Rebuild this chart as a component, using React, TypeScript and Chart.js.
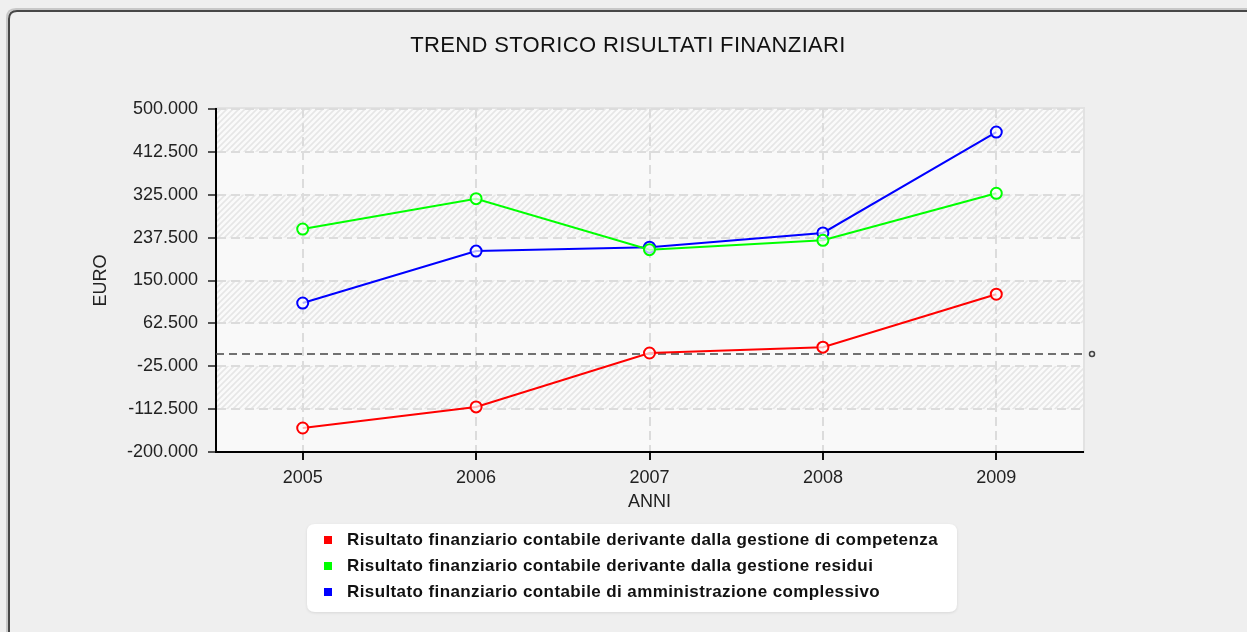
import React, { useEffect, useRef } from "react";
import { Chart, registerables } from "chart.js";

Chart.register(...registerables);

const chartTitle = "TREND STORICO RISULTATI FINANZIARI";
const xAxisTitle = "ANNI";
const yAxisTitle = "EURO";
const years = ["2005", "2006", "2007", "2008", "2009"];
const competenza = [-151000, -108000, 2000, 14000, 122000];
const residui = [255000, 317000, 213000, 232000, 328000];
const complessivo = [104000, 210000, 218000, 247000, 453000];
const yTicks = [-200000, -112500, -25000, 62500, 150000, 237500, 325000, 412500, 500000];
const zeroLine = 0;
const seriesLabels = [
  "Risultato finanziario contabile derivante dalla gestione di competenza",
  "Risultato finanziario contabile derivante dalla gestione residui",
  "Risultato finanziario contabile di amministrazione complessivo",
];
const seriesColors = ["#ff0000", "#00ff00", "#0000ff"];

function fmt(v: number): string {
  const s = Math.abs(Math.round(v)).toString().replace(/\B(?=(\d{3})+(?!\d))/g, ".");
  return (v < 0 ? "-" : "") + s;
}

function roundPath(ctx: CanvasRenderingContext2D, x: number, y: number, w: number, h: number, r: number) {
  ctx.beginPath();
  ctx.moveTo(x + r, y);
  ctx.lineTo(x + w - r, y);
  ctx.quadraticCurveTo(x + w, y, x + w, y + r);
  ctx.lineTo(x + w, y + h - r);
  ctx.quadraticCurveTo(x + w, y + h, x + w - r, y + h);
  ctx.lineTo(x + r, y + h);
  ctx.quadraticCurveTo(x, y + h, x, y + h - r);
  ctx.lineTo(x, y + r);
  ctx.quadraticCurveTo(x, y, x + r, y);
  ctx.closePath();
}

function makePattern(ctx: CanvasRenderingContext2D): CanvasPattern | string {
  const c = document.createElement("canvas");
  c.width = 6;
  c.height = 6;
  const p = c.getContext("2d");
  if (!p) return "#f3f3f3";
  p.fillStyle = "#fafafa";
  p.fillRect(0, 0, 6, 6);
  p.strokeStyle = "#e6e6e6";
  p.lineWidth = 1.6;
  p.beginPath();
  p.moveTo(-1, 7);
  p.lineTo(7, -1);
  p.moveTo(-4, 4);
  p.lineTo(4, -4);
  p.moveTo(2, 10);
  p.lineTo(10, 2);
  p.stroke();
  return ctx.createPattern(c, "repeat") || "#f3f3f3";
}

const backgroundPlugin = {
  id: "panelBackground",
  beforeDraw(chart: any) {
    const { ctx, width, height, chartArea: a, scales } = chart;
    ctx.save();
    ctx.fillStyle = "#efefef";
    ctx.fillRect(0, 0, width, height);
    ctx.lineWidth = 2;
    ctx.strokeStyle = "#c8c8c8";
    roundPath(ctx, 7, 9, width + 40, height + 40, 9);
    ctx.stroke();
    ctx.strokeStyle = "#474747";
    roundPath(ctx, 9, 11, width + 40, height + 40, 8);
    ctx.stroke();

    const pattern = makePattern(ctx);
    const ys = scales.y;
    const sorted = [...yTicks].sort((p, q) => q - p);
    for (let i = 0; i < sorted.length - 1; i++) {
      const top = ys.getPixelForValue(sorted[i]);
      const bot = ys.getPixelForValue(sorted[i + 1]);
      ctx.fillStyle = i % 2 === 0 ? pattern : "#f9f9f9";
      ctx.fillRect(a.left, top, a.right - a.left, bot - top);
    }
    ctx.strokeStyle = "#e2e2e2";
    ctx.lineWidth = 2;
    ctx.strokeRect(a.left, a.top - 1, a.right - a.left + 1, a.bottom - a.top + 1);

    // chart title
    ctx.fillStyle = "#111111";
    ctx.font = "22px 'Liberation Sans', Arial, sans-serif";
    ctx.textAlign = "center";
    ctx.textBaseline = "middle";
    (ctx as any).letterSpacing = "0.35px";
    ctx.fillText(chartTitle, 628, 46);
    (ctx as any).letterSpacing = "0px";
    ctx.restore();
  },
  beforeDatasetsDraw(chart: any) {
    const { ctx, chartArea: a, scales } = chart;
    const y0 = scales.y.getPixelForValue(zeroLine);
    ctx.save();
    ctx.strokeStyle = "#444444";
    ctx.lineWidth = 1.5;
    ctx.setLineDash([8, 5]);
    ctx.beginPath();
    ctx.moveTo(a.left, y0);
    ctx.lineTo(a.right, y0);
    ctx.stroke();
    ctx.setLineDash([]);
    ctx.beginPath();
    ctx.arc(a.right + 9, y0, 2.5, 0, Math.PI * 2);
    ctx.stroke();
    ctx.restore();
  },
  afterDraw(chart: any) {
    const { ctx } = chart;
    const bx = 307, by = 524, bw = 650, bh = 88;
    ctx.save();
    ctx.shadowColor = "rgba(0,0,0,0.10)";
    ctx.shadowBlur = 3;
    ctx.shadowOffsetY = 1;
    ctx.fillStyle = "#ffffff";
    roundPath(ctx, bx, by, bw, bh, 8);
    ctx.fill();
    ctx.shadowColor = "transparent";
    ctx.font = "bold 17px 'Liberation Sans', Arial, sans-serif";
    (ctx as any).letterSpacing = "0.4px";
    ctx.textBaseline = "middle";
    ctx.textAlign = "left";
    seriesLabels.forEach((label, i) => {
      const cy = by + 16 + i * 26;
      ctx.fillStyle = seriesColors[i];
      ctx.fillRect(bx + 17, cy - 4, 8, 8);
      ctx.fillStyle = "#111111";
      ctx.fillText(label, bx + 40, cy);
    });
    (ctx as any).letterSpacing = "0px";
    ctx.restore();
  },
};

export default function App() {
  const ref = useRef<HTMLCanvasElement | null>(null);

  useEffect(() => {
    if (!ref.current) return;
    const mk = (label: string, data: number[], color: string) => ({
      label,
      data,
      borderColor: color,
      backgroundColor: color,
      borderWidth: 2,
      pointRadius: 5.5,
      pointHoverRadius: 5.5,
      pointBorderWidth: 2,
      pointBorderColor: color,
      pointBackgroundColor: "rgba(255,255,255,0.7)",
      tension: 0,
      fill: false,
    });
    const chart = new Chart(ref.current, {
      type: "line",
      data: {
        labels: years,
        datasets: [
          mk(seriesLabels[0], competenza, seriesColors[0]),
          mk(seriesLabels[1], residui, seriesColors[1]),
          mk(seriesLabels[2], complessivo, seriesColors[2]),
        ],
      },
      options: {
        responsive: false,
        animation: false,
        layout: { padding: { left: 88, right: 164, top: 109, bottom: 119 } },
        plugins: {
          legend: { display: false },
          tooltip: { enabled: false },
          title: { display: false },
        },
        scales: {
          x: {
            offset: true,
            afterFit(scale: any) {
              scale.height = 61;
            },
            grid: {
              offset: false,
              color: "#dcdcdc",
              lineWidth: 2,
              tickColor: "#111111",
              tickWidth: 2,
              tickLength: 8,
            },
            border: { display: true, color: "#000000", width: 2, dash: [9, 5] },
            ticks: {
              color: "#222222",
              padding: 7,
              font: { family: "'Liberation Sans', Arial, sans-serif", size: 18 },
            },
            title: {
              display: true,
              text: xAxisTitle,
              color: "#222222",
              padding: { top: 0, bottom: 0 },
              font: { family: "'Liberation Sans', Arial, sans-serif", size: 18 },
            },
          },
          y: {
            min: yTicks[0],
            max: yTicks[yTicks.length - 1],
            afterFit(scale: any) {
              scale.width = 128;
            },
            afterBuildTicks(scale: any) {
              scale.ticks = yTicks.map((v) => ({ value: v }));
            },
            grid: {
              color: "#dcdcdc",
              lineWidth: 2,
              tickColor: "#555555",
              tickWidth: 2,
              tickLength: 8,
            },
            border: { display: true, color: "#000000", width: 2, dash: [9, 5] },
            ticks: {
              color: "#222222",
              padding: 10,
              font: { family: "'Liberation Sans', Arial, sans-serif", size: 18 },
              callback: (v: any) => fmt(Number(v)),
            },
            title: {
              display: true,
              text: yAxisTitle,
              color: "#222222",
              padding: { top: 2, bottom: 0 },
              font: { family: "'Liberation Sans', Arial, sans-serif", size: 18 },
            },
          },
        },
      },
      plugins: [backgroundPlugin],
    } as any);
    return () => chart.destroy();
  }, []);

  return (
    <div style={{ position: "fixed", left: 0, top: 0, width: 1247, height: 632 }}>
      <canvas ref={ref} width={1247} height={632} style={{ display: "block", width: 1247, height: 632 }} />
    </div>
  );
}
